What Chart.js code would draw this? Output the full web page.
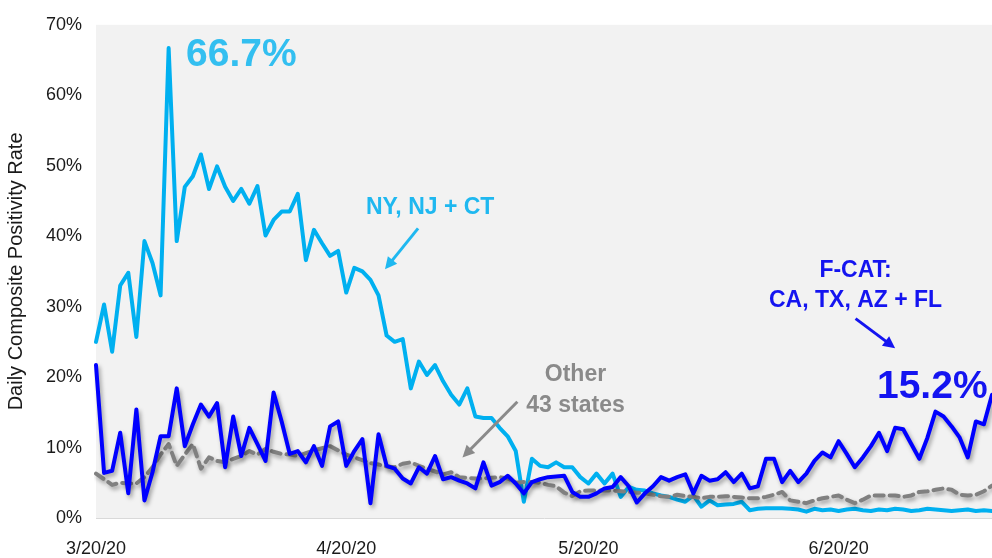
<!DOCTYPE html>
<html lang="en">

<head>
    <meta charset="utf-8">
    <title>Daily Composite Positivity Rate</title>
    <script src="https://cdn.jsdelivr.net/npm/chart.js@4.4.1/dist/chart.umd.min.js"></script>
    <style>
        html, body {
            margin: 0;
            padding: 0;
            background: #ffffff;
        }

        #wrap {
            width: 992px;
            height: 558px;
        }
    </style>
</head>

<body>
    <div id="wrap">
        <canvas id="posChart" width="992" height="558"></canvas>
    </div>

<script>
    // daily values, starting 3/20/20
    const startDay = [2020, 3, 20];
    const tickLabels = ['3/20/20', '4/20/20', '5/20/20', '6/20/20'];

    // NY, NJ + CT
    const nyNjCt = [
        25, 30.3, 23.6, 33, 34.8, 25.7, 39.3, 36.2, 31.6, 66.7,
        39.3, 47, 48.5, 51.6, 46.7, 49.9, 47, 45, 46.7, 44.6,
        47.1, 40.1, 42.3, 43.5, 43.5, 46, 36.6, 40.9, 39, 37.2,
        37.9, 32, 35.5, 35, 33.8, 31.6, 25.9, 25, 25.4, 18.4,
        22.2, 20.3, 21.7, 19.4, 17.5, 16.1, 18.4, 14.4, 14.2, 14.2,
        12.8, 11.6, 9.5, 2.3, 8.4, 7.4, 7.2, 7.9, 7.2, 7.2,
        5.8, 4.9, 6.3, 4.9, 6.3, 3.0, 4.4, 4.0, 3.9, 3.5,
        3.2, 3.0, 2.6, 2.3, 3.2, 1.6, 2.5, 1.8, 1.9, 2.0,
        2.3, 1.1, 1.3, 1.4, 1.4, 1.4, 1.3, 1.2, 0.9, 1.3,
        1.1, 1.2, 1.0, 1.2, 1.3, 1.1, 1.0, 1.2, 1.1, 1.3,
        1.2, 1.0, 1.1, 1.3, 1.2, 1.1, 1.0, 1.1, 1.2, 1.0,
        1.1, 1.0
    ];

    // F-CAT: CA, TX, AZ + FL
    const fcat = [
        21.7, 6.4, 6.7, 12.1, 3.5, 15.4, 2.5, 6.5, 11.6, 11.6,
        18.4, 10.2, 13.3, 16.1, 14.4, 16.3, 7.2, 14.4, 8.8, 12.8,
        10.5, 8.1, 17.8, 13.7, 9.1, 9.5, 7.9, 10.2, 7.4, 13,
        13.7, 7.4, 9.5, 11.2, 2.1, 11.9, 7.4, 7.0, 5.6, 4.9,
        7.2, 6.3, 8.8, 5.5, 5.8, 5.3, 4.9, 4.2, 7.9, 4.6,
        5.1, 6.0, 4.9, 3.5, 5.1, 5.5, 5.8, 5.9, 6.0, 3.7,
        3.0, 3.0, 3.5, 4.2, 4.4, 5.8, 4.5, 2.2, 3.5, 4.5,
        5.8, 5.3, 5.8, 6.2, 3.5, 6.0, 5.3, 5.5, 6.5, 5.1,
        6.3, 4.2, 4.5, 8.4, 8.4, 5.1, 6.7, 5.1, 6.3, 8.1,
        9.3, 8.6, 10.9, 9.1, 7.2, 8.6, 10.2, 12.1, 9.5, 12.8,
        12.6, 10.5, 8.4, 11.4, 15.1, 14.4, 13.0, 11.4, 8.6, 13.7,
        13.3, 17.5
    ];

    // Other 43 states
    const other43 = [
        6.3, 5.5, 4.7, 5.0, 4.9, 4.9, 5.8, 7.2, 9.0, 10.5,
        7.4, 9.0, 10.5, 7.0, 8.6, 8.1, 7.9, 8.4, 8.8, 9.5,
        9.0, 9.8, 9.4, 9.1, 9.0, 8.8, 9.2, 9.6, 9.9, 10.2,
        9.6, 9.0, 8.6, 8.2, 7.8, 7.6, 7.3, 7.2, 7.7, 7.9,
        7.4, 7.0, 6.6, 6.2, 6.5, 5.8, 5.7, 5.6, 5.6, 5.7,
        5.8, 5.6, 5.0, 5.1, 5.1, 5.0, 4.7, 4.5, 3.6, 3.1,
        3.8, 3.9, 3.9, 3.9, 3.9, 3.8, 3.7, 3.6, 3.5, 3.3,
        3.1, 3.0, 3.3, 3.1, 3.0, 2.8, 3.0, 3.0, 3.1, 3.0,
        2.9, 2.8, 2.8, 3.0, 3.3, 3.7, 2.5, 2.3, 2.1, 2.5,
        2.8, 3.0, 3.2, 2.6, 2.1, 2.6, 3.2, 3.2, 3.2, 3.2,
        3.0, 3.2, 3.7, 3.8, 4.0, 4.2, 4.0, 3.3, 3.2, 3.3,
        3.8, 4.6
    ];

    // call-outs, placed in data coordinates (day index, percent)
    const notes = [
        { text: '66.7%', at: [18, 64.1], color: '#33bff0', size: 39 },
        { text: 'NY, NJ + CT', at: [41.4, 43.1], color: '#1fb8f0', size: 23 },
        { text: 'Other', at: [59.4, 19.4], color: '#8a8a8a', size: 23 },
        { text: '43 states', at: [59.4, 15.0], color: '#8a8a8a', size: 23 },
        { text: 'F-CAT:', at: [94.1, 34.2], color: '#1414f0', size: 23 },
        { text: 'CA, TX, AZ + FL', at: [94.1, 30.0], color: '#1414f0', size: 23 },
        { text: '15.2%', at: [103.6, 17.1], color: '#1414f0', size: 39 }
    ];
    const arrows = [
        { from: [39.9, 41.1], to: [35.8, 35.3], color: '#1fb8f0' },
        { from: [52.2, 16.5], to: [45.4, 8.6], color: '#8a8a8a' },
        { from: [94.1, 28.3], to: [99.0, 24.1], color: '#1414f0' }
    ];

    const days = [];
    for (let i = 0; i < nyNjCt.length; i++) {
        let d = new Date(startDay[0], startDay[1] - 1, startDay[2] + i);
        days.push((d.getMonth() + 1) + '/' + d.getDate() + '/20');
    }

    const FONT = "'Liberation Sans', Arial, sans-serif";

    let plotBg = {
        id: 'plotBg',
        beforeDraw: (chart) => {
            let a = chart.chartArea;
            let ctx = chart.ctx;
            ctx.save();
            ctx.fillStyle = '#f2f2f2';
            ctx.fillRect(a.left, a.top, a.right - a.left, a.bottom - a.top);
            ctx.restore();
        }
    };

    let lineShadow = {
        id: 'lineShadow',
        beforeDatasetDraw: (chart, args) => {
            let ctx = chart.ctx;
            ctx.save();
            if (chart.data.datasets[args.index].shadow) {
                ctx.shadowColor = 'rgba(0, 0, 0, 0.35)';
                ctx.shadowBlur = 4;
                ctx.shadowOffsetX = 2;
                ctx.shadowOffsetY = 3;
            }
        },
        afterDatasetDraw: (chart) => {
            chart.ctx.restore();
        }
    };

    let callouts = {
        id: 'callouts',
        afterDatasetsDraw: (chart) => {
            let ctx = chart.ctx;
            let sx = chart.scales.x;
            let sy = chart.scales.y;
            ctx.save();
            ctx.textAlign = 'center';
            ctx.textBaseline = 'alphabetic';
            notes.forEach(n => {
                ctx.font = 'bold ' + n.size + 'px ' + FONT;
                ctx.fillStyle = n.color;
                ctx.fillText(n.text, sx.getPixelForValue(n.at[0]), sy.getPixelForValue(n.at[1]));
            });
            arrows.forEach(a => {
                let x1 = sx.getPixelForValue(a.from[0]), y1 = sy.getPixelForValue(a.from[1]);
                let x2 = sx.getPixelForValue(a.to[0]), y2 = sy.getPixelForValue(a.to[1]);
                let ang = Math.atan2(y2 - y1, x2 - x1);
                ctx.strokeStyle = a.color;
                ctx.fillStyle = a.color;
                ctx.lineWidth = 3;
                ctx.beginPath();
                ctx.moveTo(x1, y1);
                ctx.lineTo(x2 - 8 * Math.cos(ang), y2 - 8 * Math.sin(ang));
                ctx.stroke();
                ctx.beginPath();
                ctx.moveTo(x2, y2);
                ctx.lineTo(x2 - 12 * Math.cos(ang) + 6 * Math.sin(ang), y2 - 12 * Math.sin(ang) - 6 * Math.cos(ang));
                ctx.lineTo(x2 - 12 * Math.cos(ang) - 6 * Math.sin(ang), y2 - 12 * Math.sin(ang) + 6 * Math.cos(ang));
                ctx.closePath();
                ctx.fill();
            });
            ctx.restore();
        }
    };

    new Chart(document.getElementById('posChart'), {
        type: 'line',
        data: {
            labels: days,
            datasets: [{
                label: 'F-CAT: CA, TX, AZ + FL',
                data: fcat,
                borderColor: '#0000ff',
                borderWidth: 4,
                shadow: true,
                order: 0
            }, {
                label: 'Other 43 states',
                data: other43,
                borderColor: '#808080',
                borderWidth: 4,
                borderDash: [9, 6],
                shadow: true,
                order: 1
            }, {
                label: 'NY, NJ + CT',
                data: nyNjCt,
                borderColor: '#00b0f0',
                borderWidth: 4,
                order: 2
            }]
        },
        options: {
            responsive: false,
            animation: false,
            devicePixelRatio: 1,
            layout: {
                autoPadding: false,
                padding: { top: 20, right: 0, bottom: 0, left: 0 }
            },
            elements: {
                point: { radius: 0 },
                line: { tension: 0, borderJoinStyle: 'round', borderCapStyle: 'round' }
            },
            plugins: {
                legend: { display: false },
                tooltip: { enabled: false }
            },
            scales: {
                x: {
                    grid: { display: false, drawTicks: false },
                    border: { display: true, color: '#d9d9d9', width: 1 },
                    afterFit: (scale) => {
                        scale.height = 40;
                        scale.paddingLeft = 0;
                        scale.paddingRight = 0;
                    },
                    ticks: {
                        autoSkip: false,
                        maxRotation: 0,
                        padding: 20,
                        color: '#1a1a1a',
                        font: { family: FONT, size: 18 },
                        callback: function (value) {
                            let lbl = this.getLabelForValue(value);
                            return tickLabels.includes(lbl) ? lbl : '';
                        }
                    }
                },
                y: {
                    min: 0,
                    max: 70,
                    grid: { display: false, drawTicks: false },
                    border: { display: false },
                    afterFit: (scale) => { scale.width = 96; },
                    ticks: {
                        stepSize: 10,
                        padding: 14,
                        color: '#1a1a1a',
                        font: { family: FONT, size: 18 },
                        callback: (v) => v + '%'
                    },
                    title: {
                        display: true,
                        text: 'Daily Composite Positivity Rate',
                        color: '#1a1a1a',
                        font: { family: FONT, size: 20 },
                        padding: { top: 4, bottom: 0 }
                    }
                }
            }
        },
        plugins: [plotBg, lineShadow, callouts]
    });
</script>
</body>

</html>
